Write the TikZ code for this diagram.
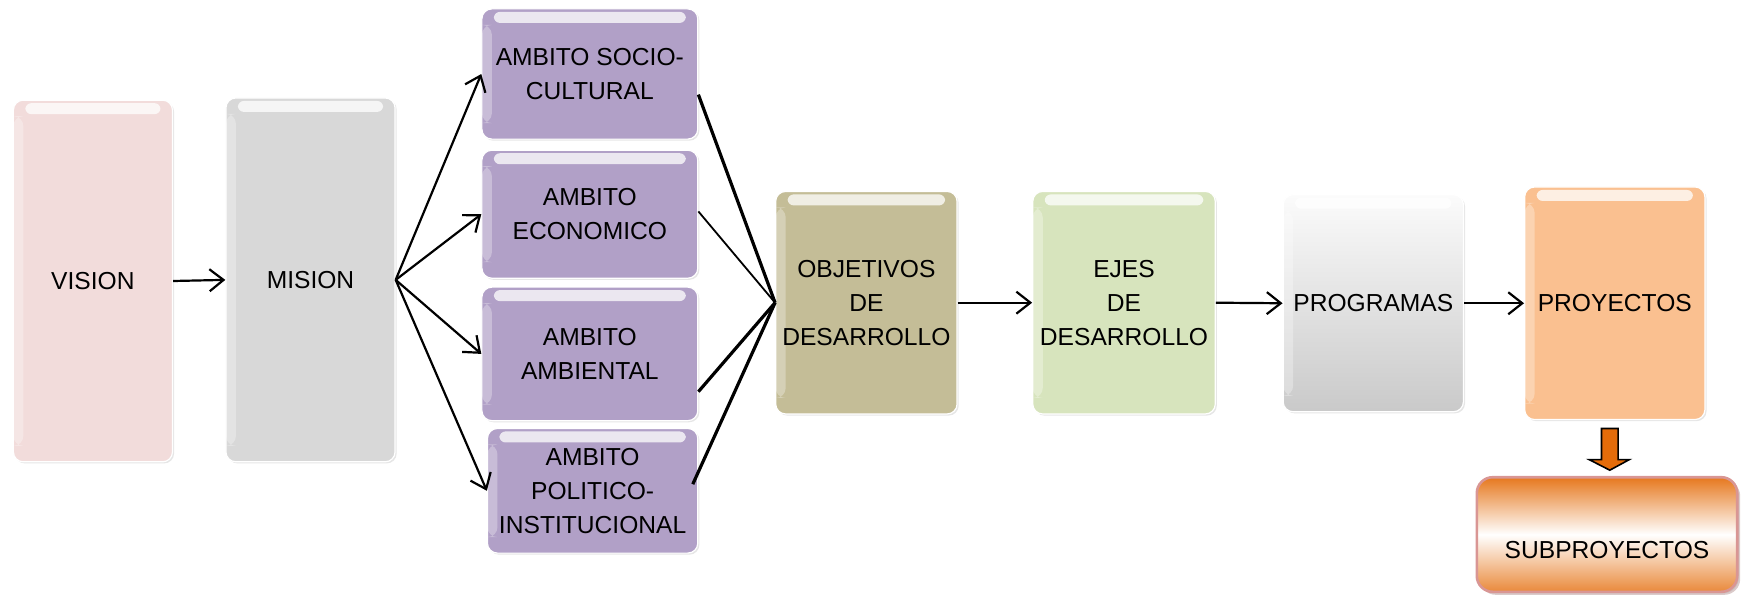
\documentclass[tikz,border=0pt]{standalone}
\usepackage{fontspec}
\setmainfont{Liberation Sans}
\usepackage{tikz}
\usetikzlibrary{arrows.meta,shadows,positioning}

\definecolor{VisionPink}{RGB}{242,220,219}
\definecolor{MisionGray}{RGB}{216,216,216}
\definecolor{AmbitoLila}{RGB}{177,160,199}
\definecolor{ObjKhaki}{RGB}{196,189,151}
\definecolor{EjesGreen}{RGB}{215,228,189}
\definecolor{ProyPeach}{RGB}{250,192,144}
\definecolor{SubOrange}{RGB}{228,108,10}
\definecolor{SubEdge}{RGB}{217,150,148}

\def\unitpx{0.5565pt}

\begin{document}
\begin{tikzpicture}[x=0.5565pt, y=-0.5565pt]
			\tikzstyle{Gloss}	= [path picture={
					\fill[white, opacity=0.75, rounded corners=3pt] ([xshift=6pt,yshift=-1.5pt]path picture bounding box.north west) rectangle ([xshift=-6pt,yshift=-7pt]path picture bounding box.north east);
					\fill[white, opacity=0.3] ([yshift=-8pt]path picture bounding box.north west) rectangle ([xshift=5pt,yshift=8pt]path picture bounding box.south west);}]
			\tikzstyle{Plain}	= [rectangle, rounded corners=5pt, align=center, inner sep=0pt, draw=white, line width=0.6pt,
					font=\fontsize{12.3}{17}\selectfont, drop shadow={opacity=0.2, shadow xshift=0.8pt, shadow yshift=-0.8pt}]
			\tikzstyle{Box}		= [Plain, Gloss]
			\tikzstyle{Arr}		= [line width=1.1pt, -{Straight Barb[length=7pt, width=11pt]}]
			\tikzstyle{Join}	= [line width=1.6pt]
			\tikzstyle{Thin}	= [line width=0.9pt]

			\useasboundingbox (0,0) rectangle (1568,536.4);

			\node (vis) at (83.5,252.5) [Box][fill=VisionPink, minimum width=143*\unitpx, minimum height=325*\unitpx] {VISION};
			\node (mis) at (279,251.5) [Box][fill=MisionGray, minimum width=152*\unitpx, minimum height=327*\unitpx] {MISION};

			\node (soc) at (530,66.5) [Box][fill=AmbitoLila, minimum width=194*\unitpx, minimum height=117*\unitpx] {AMBITO SOCIO-\\CULTURAL};
			\node (eco) at (530,192.5) [Box][fill=AmbitoLila, minimum width=194*\unitpx, minimum height=115*\unitpx] {AMBITO\\ECONOMICO};
			\node (amb) at (530,318) [Box][fill=AmbitoLila, minimum width=194*\unitpx, minimum height=120*\unitpx] {AMBITO\\AMBIENTAL};
			\node (pol) at (532.5,441) [Box][fill=AmbitoLila, minimum width=189*\unitpx, minimum height=112*\unitpx] {AMBITO\\POLITICO-\\INSTITUCIONAL};

			\node (obj) at (778.5,272) [Box][fill=ObjKhaki, minimum width=163*\unitpx, minimum height=200*\unitpx] {OBJETIVOS\\DE\\DESARROLLO};
			\node (ejes) at (1010,272) [Box][fill=EjesGreen, minimum width=164*\unitpx, minimum height=200*\unitpx] {EJES\\DE\\DESARROLLO};
			\node (prog) at (1234,272.5) [Box][top color=white!97!gray, bottom color=gray!42, minimum width=162*\unitpx, minimum height=195*\unitpx] {PROGRAMAS};
			\node (proy) at (1451,272.5) [Box][fill=ProyPeach, minimum width=162*\unitpx, minimum height=209*\unitpx] {PROYECTOS};
			\node (sub) at (1444,480.3) [Plain][draw=SubEdge, line width=1.3pt, rounded corners=8pt, top color=SubOrange!92, bottom color=SubOrange!80, middle color=white,
					drop shadow={opacity=0.35, fill=SubEdge!70!black, shadow xshift=1.5pt, shadow yshift=-1.5pt},
					minimum width=234*\unitpx, minimum height=103*\unitpx, text height=24.4pt, text depth=0pt] {SUBPROYECTOS};

			\draw [Arr] (vis.east) to (mis.west);
			\foreach \t in {soc, eco, amb, pol}
				\draw [Arr] (mis.east) to (\t.west);

			\draw [-] ([yshift=-10.3pt]soc.east) to (obj.west) [Join];
			\draw [-] ([yshift=1.4pt]eco.east) to (obj.west) [Thin];
			\draw [-] ([yshift=-18.9pt]amb.east) to (obj.west) [Join];
			\draw [-] ([xshift=-2.8pt,yshift=3.3pt]pol.east) to (obj.west) [Join];

			\foreach \a/\b in {obj/ejes, ejes/prog, prog/proy}
				\draw [Arr] (\a.east) to (\b.west);

			\draw [fill=SubOrange, line width=0.8pt, line join=miter] (1439,385) -- (1454,385) -- (1454,413) -- (1464,413) -- (1446.5,422.5) -- (1428,413) -- (1439,413) -- cycle;
		\end{tikzpicture}
\end{document}
